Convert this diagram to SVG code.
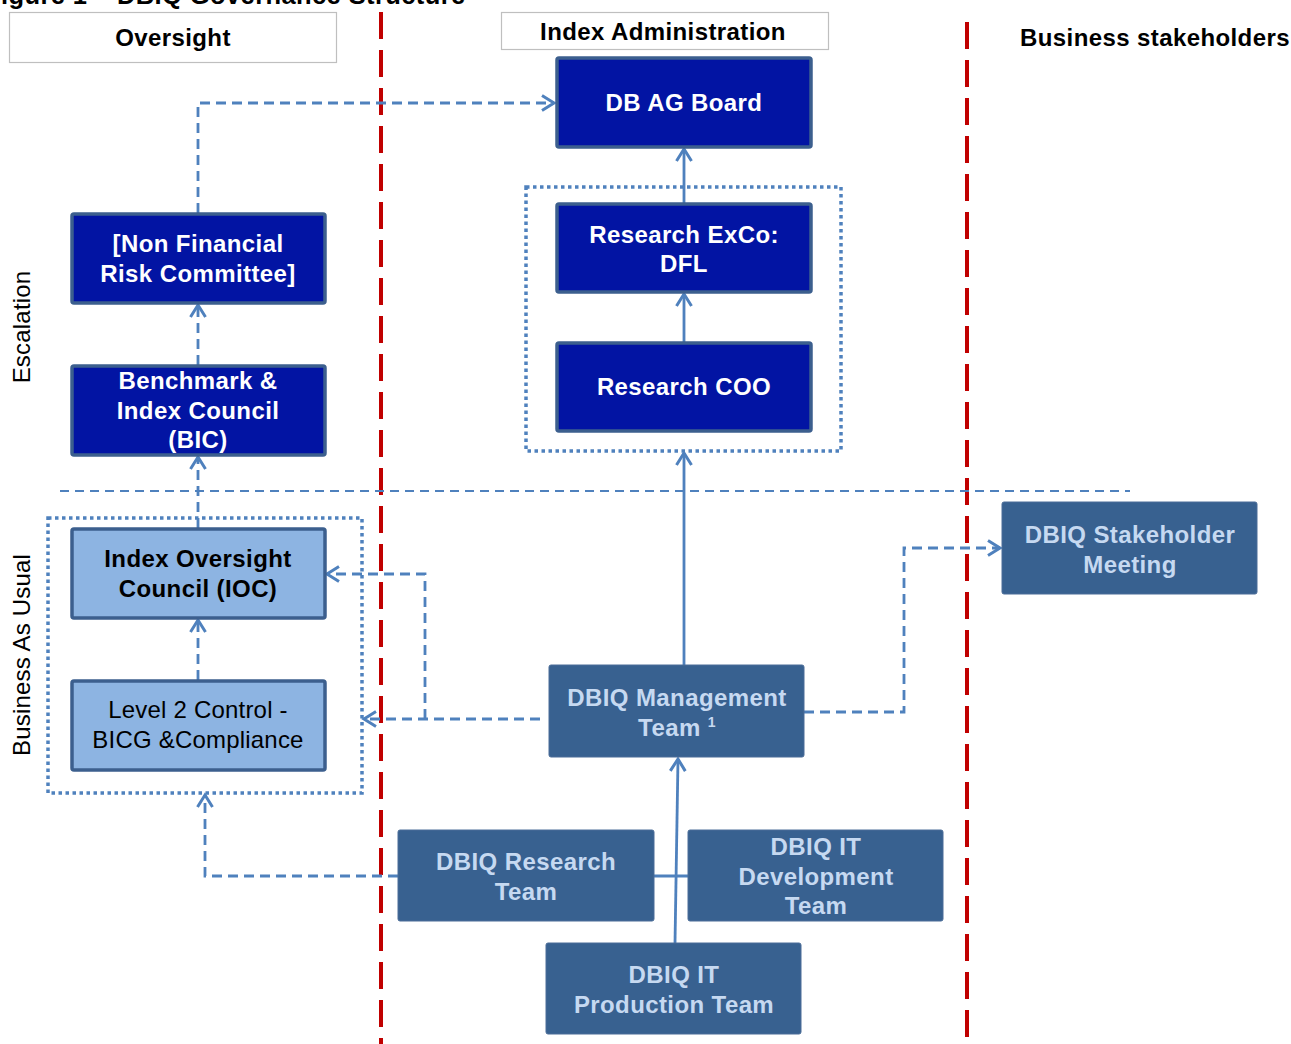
<svg xmlns="http://www.w3.org/2000/svg" width="1291" height="1044" viewBox="0 0 1291 1044">
<defs>
<style>
text{font-family:"Liberation Sans",Arial,sans-serif;font-size:24px;text-anchor:middle;letter-spacing:0.2px}
.b{font-weight:bold;letter-spacing:0.4px}
.hdr{fill:#fff;stroke:#bfbfbf;stroke-width:1.2}
.dk{fill:#0214a3;stroke:#3c5f8e;stroke-width:3.5}
.lt{fill:#8db4e2;stroke:#3c5f8e;stroke-width:3.5}
.md{fill:#386190;stroke:#4b6d98;stroke-width:1}
.wt{fill:#fff;font-weight:bold;letter-spacing:0.4px}
.mt{fill:#c6d9f1;font-weight:bold;letter-spacing:0.4px}
.kt{fill:#000}
.red{stroke:#c00000;stroke-width:4;stroke-dasharray:27 11;fill:none}
.dot{fill:none;stroke:#4f81bd;stroke-width:3.5;stroke-dasharray:3.5 3.5}
.dsh{fill:none;stroke:#4f81bd;stroke-width:2.8;stroke-dasharray:10 6}
.sol{fill:none;stroke:#4f81bd;stroke-width:2.8}
.sep{fill:none;stroke:#4f81bd;stroke-width:2;stroke-dasharray:9 6}
</style>
<marker id="ah" markerUnits="userSpaceOnUse" viewBox="0 0 18 18" refX="15" refY="9" markerWidth="18" markerHeight="18" orient="auto">
<path d="M3,1.5 L15,9 L3,16.5" fill="none" stroke="#4f81bd" stroke-width="3"/>
</marker>
</defs>
<rect width="1291" height="1044" fill="#fff"/>
<text x="-15" y="4" class="b" style="text-anchor:start;font-size:25.5px">Figure 1 – DBIQ Governance Structure</text>

<g id="headers">
<rect class="hdr" x="9.5" y="12.5" width="327" height="50"/>
<text x="173" y="46" class="b">Oversight</text>
<rect class="hdr" x="501.5" y="12.5" width="327" height="37"/>
<text x="663" y="40" class="b">Index Administration</text>
<text x="1155" y="46" class="b">Business stakeholders</text>
<text transform="translate(30,327) rotate(-90)">Escalation</text>
<text transform="translate(30,655) rotate(-90)">Business As Usual</text>
</g>

<g id="separators">
<line class="red" x1="381" y1="12" x2="381" y2="1044"/>
<line class="red" x1="967" y1="22" x2="967" y2="1050"/>
<line class="sep" x1="60" y1="491" x2="1130" y2="491"/>
<rect class="dot" x="526" y="187" width="315" height="264"/>
<rect class="dot" x="48" y="518" width="314" height="275"/>
</g>

<g id="connectors">
<path class="dsh" d="M198,213 V103 H554" marker-end="url(#ah)"/>
<path class="dsh" d="M198,365 V305" marker-end="url(#ah)"/>
<path class="dsh" d="M198,528 V457" marker-end="url(#ah)"/>
<path class="dsh" d="M198,680 V620" marker-end="url(#ah)"/>
<path class="sol" d="M684,342 V294" marker-end="url(#ah)"/>
<path class="sol" d="M684,203 V149" marker-end="url(#ah)"/>
<path class="sol" d="M684,665 V453" marker-end="url(#ah)"/>
<path class="dsh" d="M540,719 H364" marker-end="url(#ah)"/>
<path class="dsh" d="M425,719 V574 H327" marker-end="url(#ah)"/>
<path class="dsh" d="M804,712 H904 V548 H1000" marker-end="url(#ah)"/>
<path class="dsh" d="M398,876 H205 V795" marker-end="url(#ah)"/>
<path class="sol" d="M675,943 L678,759" marker-end="url(#ah)"/>
<path class="sol" d="M654,876 H688"/>
</g>

<g id="n-board"><rect class="dk" x="557" y="58" width="254" height="89" rx="2"/><text class="wt" x="684" y="111">DB AG Board</text></g>
<g id="n-exco"><rect class="dk" x="557" y="204" width="254" height="88" rx="2"/><text class="wt" x="684" y="243">Research ExCo:</text><text class="wt" x="684" y="272">DFL</text></g>
<g id="n-coo"><rect class="dk" x="557" y="343" width="254" height="88" rx="2"/><text class="wt" x="684" y="395">Research COO</text></g>
<g id="n-nfrc"><rect class="dk" x="72" y="214" width="253" height="89" rx="2"/><text class="wt" x="198" y="252">[Non Financial</text><text class="wt" x="198" y="282">Risk Committee]</text></g>
<g id="n-bic"><rect class="dk" x="72" y="366" width="253" height="89" rx="2"/><text class="wt" x="198" y="389">Benchmark &amp;</text><text class="wt" x="198" y="419">Index Council</text><text class="wt" x="198" y="448">(BIC)</text></g>
<g id="n-ioc"><rect class="lt" x="72" y="529" width="253" height="89" rx="2"/><text class="kt b" x="198" y="567">Index Oversight</text><text class="kt b" x="198" y="597">Council (IOC)</text></g>
<g id="n-l2"><rect class="lt" x="72" y="681" width="253" height="89" rx="2"/><text class="kt" x="198" y="718">Level 2 Control -</text><text class="kt" x="198" y="748">BICG &amp;Compliance</text></g>
<g id="n-stake"><rect class="md" x="1002" y="502" width="255" height="92" rx="2"/><text class="mt" x="1130" y="543">DBIQ Stakeholder</text><text class="mt" x="1130" y="573">Meeting</text></g>
<g id="n-mgmt"><rect class="md" x="549" y="665" width="255" height="92" rx="2"/><text class="mt" x="677" y="706">DBIQ Management</text><text class="mt" x="677" y="736">Team <tspan font-size="14" dy="-9">1</tspan></text></g>
<g id="n-research"><rect class="md" x="398" y="830" width="256" height="91" rx="2"/><text class="mt" x="526" y="870">DBIQ Research</text><text class="mt" x="526" y="900">Team</text></g>
<g id="n-itdev"><rect class="md" x="688" y="830" width="255" height="91" rx="2"/><text class="mt" x="816" y="855">DBIQ  IT</text><text class="mt" x="816" y="885">Development</text><text class="mt" x="816" y="914">Team</text></g>
<g id="n-itprod"><rect class="md" x="546" y="943" width="255" height="91" rx="2"/><text class="mt" x="674" y="983">DBIQ  IT</text><text class="mt" x="674" y="1013">Production Team</text></g>
</svg>
